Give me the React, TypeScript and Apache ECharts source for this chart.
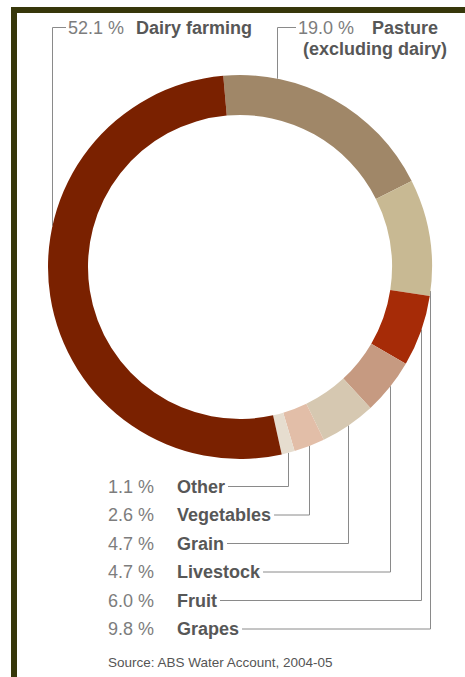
import React, { useEffect, useRef } from 'react';
import * as echarts from 'echarts';

// ---- data ----
const categories = ['Pasture', 'Grapes', 'Fruit', 'Livestock', 'Grain', 'Vegetables', 'Other', 'Dairy farming'];
const notes = ['(excluding dairy)', '', '', '', '', '', '', ''];
const values = [19.0, 9.8, 6.0, 4.7, 4.7, 2.6, 1.1, 52.1];
const colors = ['#a08768', '#c8b993', '#a62b07', '#c69a81', '#d6c8b1', '#e2bea8', '#e6ddcf', '#7a2100'];
const sourceNote = 'Source: ABS Water Account, 2004-05';

// ---- layout ----
const FONT = '"Liberation Sans", Arial, Helvetica, sans-serif';
const CX = 240;
const CY = 267;
const R_OUT = 192;
const R_IN = 152;
const START = 95;
const LH = 21;

export default function App() {
  const ref = useRef<HTMLDivElement>(null);

  useEffect(() => {
    const chart = echarts.init(ref.current as HTMLDivElement, null, { renderer: 'svg' });
    const total = values.reduce((a, b) => a + b, 0);

    const midPoint = (i: number) => {
      let before = 0;
      for (let k = 0; k < i; k++) before += values[k];
      const ang = ((START - ((before + values[i] / 2) / total) * 360) * Math.PI) / 180;
      return [CX + R_OUT * Math.cos(ang), CY - R_OUT * Math.sin(ang)];
    };
    const topHit = (x: number) => CY - Math.sqrt(Math.max(0, R_OUT * R_OUT - (x - CX) * (x - CX)));
    const bottomHit = (x: number) => CY + Math.sqrt(Math.max(0, R_OUT * R_OUT - (x - CX) * (x - CX)));

    // top labels: dataIndex -> [text x, line x, first line centre y]
    const topLabels: Record<number, number[]> = {
      7: [68, 52.5, 27.5],
      0: [298, 277.5, 27.5],
    };
    const lastIdx = values.length - 2; // Other is the last bottom row
    const rowY = (i: number) => 486.5 + (lastIdx - i) * 28.5;
    const BOTTOM_X = 106;

    chart.setOption({
      animation: false,
      backgroundColor: '#ffffff',
      textStyle: { fontFamily: FONT },
      graphic: [
        { type: 'rect', shape: { x: 11, y: 7, width: 454, height: 6 }, style: { fill: '#37370a' } },
        { type: 'rect', shape: { x: 11, y: 7, width: 6, height: 670 }, style: { fill: '#37370a' } },
        {
          type: 'text',
          x: 108,
          y: 662,
          style: {
            text: sourceNote,
            fill: '#555555',
            font: `13.5px ${FONT}`,
            verticalAlign: 'middle',
          },
        },
      ],
      series: [
        {
          type: 'pie',
          center: [CX, CY],
          radius: [R_IN, R_OUT],
          startAngle: START,
          clockwise: true,
          avoidLabelOverlap: false,
          silent: true,
          itemStyle: { borderWidth: 0 },
          emphasis: { disabled: true },
          data: values.map((v, i) => ({
            name: categories[i],
            value: v,
            itemStyle: { color: colors[i] },
          })),
          label: {
            show: true,
            position: 'outer',
            fontFamily: FONT,
            formatter: (p: any) => {
              const i = p.dataIndex;
              const pct = values[i].toFixed(1) + ' %';
              if (topLabels[i]) {
                if (notes[i]) return `{t|${pct}}{n2|${categories[i]}}\n{m|${notes[i]}}`;
                return `{t|${pct}}{n|${categories[i]}}`;
              }
              return `{v|${pct}}{b|${categories[i]}}`;
            },
            rich: {
              t: { fontSize: 18, color: '#7d7d7d', lineHeight: LH, fontFamily: FONT },
              n: { fontSize: 18, fontWeight: 'bold', color: '#575757', lineHeight: LH, padding: [0, 0, 0, 12], fontFamily: FONT },
              n2: { fontSize: 18, fontWeight: 'bold', color: '#575757', lineHeight: LH, padding: [0, 0, 0, 18], fontFamily: FONT },
              m: { fontSize: 18, fontWeight: 'bold', color: '#575757', lineHeight: LH, padding: [0, 0, 0, 5], fontFamily: FONT },
              v: { fontSize: 18, color: '#7d7d7d', lineHeight: LH, width: 50, align: 'right', fontFamily: FONT },
              b: { fontSize: 18, fontWeight: 'bold', color: '#575757', lineHeight: LH, padding: [0, 0, 0, 21], fontFamily: FONT },
            },
          },
          labelLine: {
            show: true,
            length: 10,
            length2: 10,
            smooth: false,
            lineStyle: { color: '#8a8a8a', width: 1 },
          },
          labelLayout: (params: any) => {
            const i = params.dataIndex;
            const w = params.labelRect.width;
            const tl = topLabels[i];
            if (tl) {
              const [tx, lx, ly] = tl;
              return {
                x: tx,
                y: ly - LH / 2,
                align: 'left',
                verticalAlign: 'top',
                labelLinePoints: [
                  [lx, topHit(lx)],
                  [lx, ly],
                  [tx - 2, ly],
                ],
              };
            }
            const p0 =
              params.labelLinePoints && params.labelLinePoints[0]
                ? params.labelLinePoints[0]
                : midPoint(i);
            const px = Math.round(p0[0]) + 0.5;
            const y = rowY(i);
            return {
              x: BOTTOM_X,
              y: y - LH / 2,
              align: 'left',
              verticalAlign: 'top',
              labelLinePoints: [
                [px, bottomHit(px)],
                [px, y],
                [BOTTOM_X + w + 3, y],
              ],
            };
          },
        },
      ],
    });

    return () => chart.dispose();
  }, []);

  return (
    <div
      ref={ref}
      style={{ position: 'absolute', left: 0, top: 0, width: 465, height: 677 }}
    />
  );
}
